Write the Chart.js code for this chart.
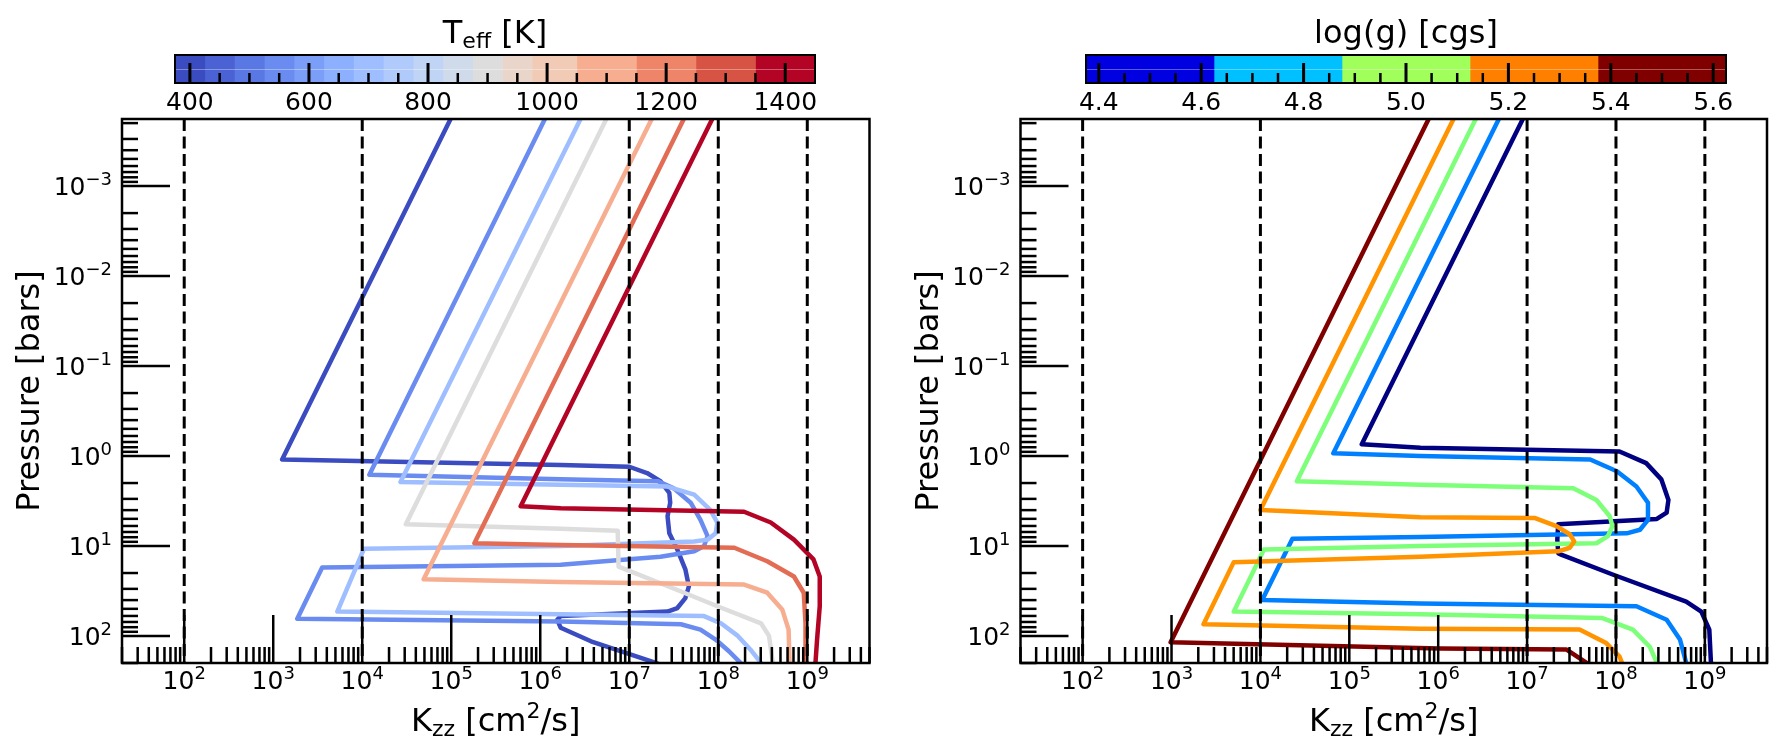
<!DOCTYPE html>
<html>
<head>
<meta charset="utf-8">
<title>Kzz profiles</title>
<script src="https://cdn.jsdelivr.net/npm/chart.js@4.4.1/dist/chart.umd.min.js"></script>
<style>
  body { margin: 0; background: #fff; }
  #figure { position: relative; width: 1790px; height: 752px; overflow: hidden; background: #fff; }
  #figure canvas { position: absolute; top: 0; }
</style>
</head>
<body>
<div id="figure">
  <canvas id="teffPanel" width="895" height="752" style="left:0"></canvas>
  <canvas id="loggPanel" width="895" height="752" style="left:895px"></canvas>
  <canvas id="teffBar" width="720" height="119" style="left:140px"></canvas>
  <canvas id="loggBar" width="720" height="119" style="left:1051px"></canvas>
</div>
<script>
// Profiles, as [log10 Kzz (cm^2/s), log10 P (bar)]
const teff400 = [[5.02,-3.8],[3.10,0.04],[6.23,0.10],[7.00,0.12],[7.20,0.19],[7.35,0.28],[7.45,0.41],[7.46,0.52],[7.43,0.67],[7.45,0.86],[7.54,1.04],[7.63,1.26],[7.67,1.45],[7.63,1.58],[7.54,1.69],[7.43,1.73],[6.23,1.78],[6.19,1.82],[6.23,1.91],[6.57,2.06],[7.24,2.28],[7.38,2.33]];
const teff550 = [[6.08,-3.8],[4.08,0.21],[6.23,0.26],[7.32,0.28],[7.50,0.36],[7.69,0.52],[7.80,0.71],[7.88,0.89],[7.84,1.00],[7.73,1.06],[7.35,1.12],[6.23,1.21],[3.55,1.24],[3.27,1.81],[6.23,1.84],[7.58,1.87],[7.80,1.93],[7.97,2.04],[8.12,2.17],[8.25,2.30],[8.28,2.33]];
const teff700 = [[6.48,-3.8],[4.43,0.29],[6.23,0.32],[7.43,0.34],[7.73,0.43],[7.91,0.60],[7.99,0.74],[7.97,0.86],[7.88,0.93],[7.73,0.95],[6.23,1.00],[4.02,1.03],[3.72,1.73],[6.23,1.76],[7.84,1.78],[8.03,1.86],[8.22,2.00],[8.36,2.15],[8.48,2.30],[8.50,2.33]];
const teff900 = [[6.77,-3.8],[4.49,0.76],[6.23,0.81],[6.87,0.83],[6.88,1.23],[7.54,1.49],[7.99,1.67],[8.48,1.86],[8.57,2.00],[8.61,2.28],[8.61,2.33]];
const teff1100 = [[7.28,-3.8],[4.69,1.37],[6.23,1.40],[8.29,1.43],[8.55,1.52],[8.72,1.71],[8.79,1.93],[8.80,2.28],[8.80,2.33]];
const teff1300 = [[7.64,-3.8],[5.26,0.97],[6.23,0.99],[8.18,1.02],[8.55,1.17],[8.85,1.34],[8.96,1.52],[8.98,1.86],[8.98,2.33]];
const teff1400 = [[7.96,-3.8],[5.78,0.56],[6.23,0.58],[8.29,0.62],[8.59,0.74],[8.85,0.93],[9.07,1.15],[9.14,1.34],[9.14,1.67],[9.11,2.04],[9.09,2.33]];
const teffLines = [teff400, teff550, teff700, teff900, teff1100, teff1300, teff1400];
const teffLineColors = ['#3b4cc0', '#6a8cf0', '#9fbeff', '#dddddd', '#f7ad8f', '#e36c55', '#b40426'];

const logg450 = [[6.98,-3.8],[5.14,-0.13],[5.80,-0.09],[8.04,-0.05],[8.34,0.08],[8.51,0.26],[8.59,0.49],[8.57,0.63],[8.46,0.70],[7.35,0.76],[7.34,0.93],[7.35,1.08],[7.39,1.10],[7.97,1.32],[8.79,1.62],[8.96,1.73],[9.05,1.93],[9.07,2.33]];
const logg475 = [[6.71,-3.8],[4.82,-0.03],[5.80,0.00],[7.71,0.04],[8.01,0.17],[8.23,0.34],[8.36,0.52],[8.36,0.71],[8.27,0.82],[8.12,0.86],[5.80,0.90],[4.36,0.92],[4.02,1.60],[5.80,1.64],[8.23,1.67],[8.57,1.82],[8.72,2.04],[8.79,2.30],[8.80,2.33]];
const logg500 = [[6.45,-3.8],[4.41,0.28],[5.80,0.32],[7.52,0.36],[7.78,0.49],[7.93,0.67],[7.96,0.78],[7.91,0.89],[7.78,0.97],[5.80,1.00],[4.04,1.04],[3.70,1.73],[5.80,1.76],[7.84,1.80],[8.19,1.93],[8.38,2.12],[8.46,2.30],[8.46,2.33]];
const logg525 = [[6.20,-3.8],[4.00,0.60],[5.80,0.68],[7.09,0.69],[7.33,0.78],[7.48,0.87],[7.53,0.95],[7.48,1.02],[7.35,1.06],[5.80,1.12],[3.70,1.18],[3.36,1.87],[5.80,1.92],[7.59,1.93],[7.89,2.08],[8.04,2.23],[8.08,2.33]];
const logg550 = [[5.92,-3.8],[2.99,2.07],[6.02,2.14],[7.44,2.15],[7.67,2.30],[7.71,2.33]];
const loggLines = [logg450, logg475, logg500, logg525, logg550];
const loggLineColors = ['#000080', '#0080ff', '#7dff7a', '#ff9400', '#800000'];

// colour bars
const teffBins = [375, 425, 475, 525, 575, 625, 675, 725, 775, 825, 875, 925, 975, 1050, 1150, 1250, 1350, 1450];
const teffBinColors = ['#3b4cc0', '#4a62d3', '#5978e3', '#6a8cf0', '#7b9ff9', '#8db0fe', '#9fbeff', '#b0cafc', '#c0d4f5', '#cfdaea', '#dddddd', '#e9d5ca', '#f2cbb7', '#f7ad8f', '#ee8468', '#d75344', '#b40426'];
const teffMajor = [400, 600, 800, 1000, 1200, 1400];
const loggBins = [4.375, 4.625, 4.875, 5.125, 5.375, 5.625];
const loggBinColors = ['#0000e0', '#00c0ff', '#a0ff5a', '#ff8000', '#800000'];
const loggMajor = [4.4, 4.6, 4.8, 5.0, 5.2, 5.4, 5.6];

const guideKzz = [1e2, 1e4, 1e7, 1e8, 1e9];
const kzzRange = [20, 5e9];
const pRange = [1.8e-4, 200];

const FONT = '"DejaVu Sans", sans-serif';

function seg(ctx, x1, y1, x2, y2) {
    ctx.beginPath();
    ctx.moveTo(x1, y1);
    ctx.lineTo(x2, y2);
    ctx.stroke();
}

// text pieces with sub/superscripts, roughly like matplotlib mathtext
function richText(ctx, parts, x, y, size, align) {
    const small = Math.round(size * 0.7);
    let w = 0;
    parts.forEach(p => {
        ctx.font = (p.sub || p.sup ? small : size) + 'px ' + FONT;
        p.w = ctx.measureText(p.t).width;
        w += p.w;
    });
    let cx = align === 'right' ? x - w : (align === 'left' ? x : x - w / 2);
    ctx.textAlign = 'left';
    ctx.textBaseline = 'alphabetic';
    parts.forEach(p => {
        ctx.font = (p.sub || p.sup ? small : size) + 'px ' + FONT;
        const dy = p.sub ? size * 0.17 : (p.sup ? -size * 0.4 : 0);
        ctx.fillText(p.t, cx, y + dy);
        cx += p.w;
    });
}

function powLabel(e) {
    return [{ t: '10' }, { t: (e < 0 ? '\u2212' : '') + Math.abs(e), sup: true }];
}

const panelDecor = {
    id: 'panelDecor',
    afterDatasetsDraw(chart) {
        const ctx = chart.ctx, a = chart.chartArea;
        const xs = chart.scales.x, ys = chart.scales.y;
        ctx.save();
        ctx.strokeStyle = '#000';
        ctx.fillStyle = '#000';
        ctx.lineCap = 'butt';

        // dashed reference values of Kzz
        ctx.lineWidth = 3;
        ctx.setLineDash([12, 5.5]);
        guideKzz.forEach(v => {
            const px = xs.getPixelForValue(v);
            seg(ctx, px, a.top, px, a.bottom);
        });
        ctx.setLineDash([]);

        // inward ticks on bottom and left only
        ctx.lineWidth = 2.5;
        for (let e = 1; e <= 9; e++) {
            for (let m = 1; m <= 9; m++) {
                const v = m * Math.pow(10, e);
                if (v < xs.min || v > xs.max) continue;
                const px = xs.getPixelForValue(v);
                seg(ctx, px, a.bottom, px, a.bottom - (m === 1 ? 48 : 16));
            }
        }
        for (let e = -4; e <= 2; e++) {
            for (let m = 1; m <= 9; m++) {
                const v = m * Math.pow(10, e);
                if (v < ys.min || v > ys.max) continue;
                const py = ys.getPixelForValue(v);
                seg(ctx, a.left, py, a.left + (m === 1 ? 48 : 16), py);
            }
        }
        ctx.strokeRect(a.left, a.top, a.right - a.left, a.bottom - a.top);

        // tick labels
        for (let e = 2; e <= 9; e++) {
            richText(ctx, powLabel(e), xs.getPixelForValue(Math.pow(10, e)), a.bottom + 26, 25, 'center');
        }
        for (let e = -3; e <= 2; e++) {
            richText(ctx, powLabel(e), a.left - 10, ys.getPixelForValue(Math.pow(10, e)) + 9, 25, 'right');
        }

        // axis titles
        richText(ctx, [{ t: 'K' }, { t: 'zz', sub: true }, { t: ' [cm' }, { t: '2', sup: true }, { t: '/s]' }],
            (a.left + a.right) / 2, a.bottom + 68, 32, 'center');
        ctx.translate(a.left - 83, (a.top + a.bottom) / 2);
        ctx.rotate(-Math.PI / 2);
        richText(ctx, [{ t: 'Pressure [bars]' }], 0, 0, 32, 'center');
        ctx.restore();
    }
};

function makePanel(id, lines, colors, padLeft, padRight) {
    const datasets = lines.map((pts, i) => ({
        data: pts.map(p => ({ x: Math.pow(10, p[0]), y: Math.pow(10, p[1]) })),
        borderColor: colors[i],
        borderWidth: 4.5,
        pointRadius: 0,
        showLine: true,
        fill: false,
        tension: 0,
        clip: 0,
        borderJoinStyle: 'round',
        order: lines.length - i // later profiles on top
    }));
    return new Chart(document.getElementById(id), {
        type: 'scatter',
        data: { datasets: datasets },
        options: {
            responsive: false,
            animation: false,
            devicePixelRatio: 1,
            events: [],
            layout: { padding: { left: padLeft, right: padRight, top: 119, bottom: 89 } },
            plugins: { legend: { display: false }, tooltip: { enabled: false } },
            scales: {
                x: { type: 'logarithmic', min: kzzRange[0], max: kzzRange[1], display: false },
                y: { type: 'logarithmic', min: pRange[0], max: pRange[1], reverse: true, display: false }
            }
        },
        plugins: [panelDecor]
    });
}

function makeColorbar(id, bins, colors, major, minor, fmt, title) {
    const datasets = colors.map((c, i) => ({
        data: [[bins[i], bins[i + 1]]],
        backgroundColor: c,
        borderWidth: 0,
        barPercentage: 1,
        categoryPercentage: 1,
        grouped: false
    }));
    return new Chart(document.getElementById(id), {
        type: 'bar',
        data: { labels: [''], datasets: datasets },
        options: {
            indexAxis: 'y',
            responsive: false,
            animation: false,
            devicePixelRatio: 1,
            events: [],
            layout: { padding: { left: 35, right: 45, top: 55, bottom: 36 } },
            plugins: { legend: { display: false }, tooltip: { enabled: false } },
            scales: {
                x: { type: 'linear', min: bins[0], max: bins[bins.length - 1], display: false },
                y: { display: false }
            }
        },
        plugins: [{
            id: 'cbDecor',
            afterDatasetsDraw(chart) {
                const ctx = chart.ctx, a = chart.chartArea, xs = chart.scales.x;
                ctx.save();
                // faint light streak across the bar, as in the original
                ctx.strokeStyle = 'rgba(255,255,255,0.35)';
                ctx.lineWidth = 1;
                seg(ctx, a.left, a.top + 14.5, a.right, a.top + 14.5);
                ctx.strokeStyle = '#000';
                ctx.lineWidth = 2.5;
                minor.forEach(v => {
                    const px = xs.getPixelForValue(v);
                    seg(ctx, px, a.bottom, px, a.bottom - 10);
                });
                ctx.lineWidth = 3;
                major.forEach(v => {
                    const px = xs.getPixelForValue(v);
                    seg(ctx, px, a.bottom, px, a.bottom - 20);
                });
                ctx.lineWidth = 2;
                ctx.strokeRect(a.left, a.top, a.right - a.left, a.bottom - a.top);
                ctx.fillStyle = '#000';
                major.forEach(v => richText(ctx, [{ t: fmt(v) }], xs.getPixelForValue(v), a.bottom + 27, 25, 'center'));
                richText(ctx, title, (a.left + a.right) / 2, a.top - 12, 32, 'center');
                ctx.restore();
            }
        }]
    });
}

// minor colour bar ticks every 50 K and every 0.05 dex
const teffMinor = [];
for (let t = 450; t <= 1400; t += 50) if (t % 200 !== 0) teffMinor.push(t);
const loggMinor = [];
for (let k = 89; k <= 111; k++) if (k % 4 !== 0) loggMinor.push(k * 0.05);

makePanel('teffPanel', teffLines, teffLineColors, 122, 25.5);
makePanel('loggPanel', loggLines, loggLineColors, 125.5, 23);
makeColorbar('teffBar', teffBins, teffBinColors, teffMajor, teffMinor, v => String(v),
    [{ t: 'T' }, { t: 'eff', sub: true }, { t: ' [K]' }]);
makeColorbar('loggBar', loggBins, loggBinColors, loggMajor, loggMinor, v => v.toFixed(1),
    [{ t: 'log(g) [cgs]' }]);
</script>
</body>
</html>
